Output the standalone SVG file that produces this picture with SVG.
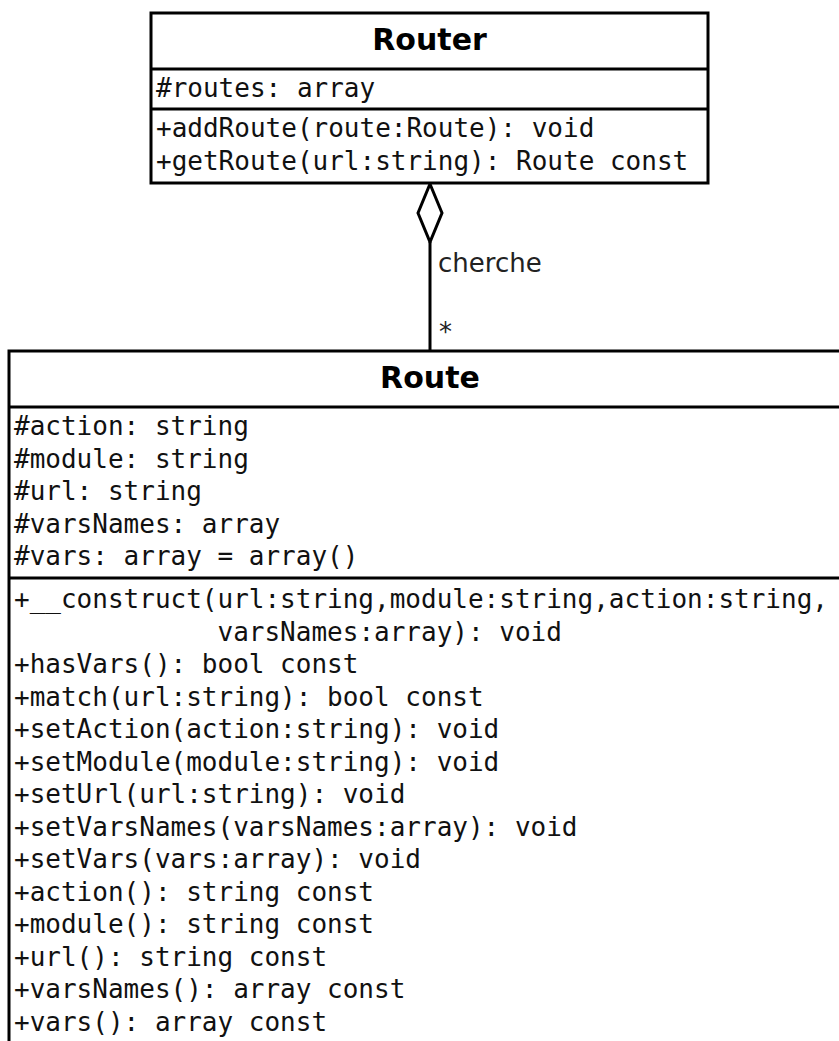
<svg xmlns="http://www.w3.org/2000/svg" width="839" height="1041" viewBox="0 0 839 1041">
<style>
.box{fill:#fff;stroke:#000;stroke-width:3}
.sep{stroke:#000;stroke-width:3}
.title{font-family:"DejaVu Sans",sans-serif;font-weight:bold;font-size:30px;text-anchor:middle;fill:#000}
.mono{font-family:"DejaVu Sans Mono","Liberation Mono",monospace;font-size:26px;fill:#111}
.lbl{font-family:"DejaVu Sans",sans-serif;font-size:26px;fill:#222}
.edge{stroke:#000;stroke-width:3;fill:none}
</style>
<rect width="839" height="1041" fill="#fff"/>
<g id="connectors">
<line class="edge" x1="430" y1="242" x2="430" y2="351"/>
<polygon class="edge" points="430,184 442,213 430,242 418,213" fill="#fff" style="fill:#fff"/>
<text class="lbl" x="438" y="272">cherche</text>
<text class="lbl" x="439" y="341">*</text>
</g>
<g id="Router">
<rect class="box" x="151" y="13" width="557" height="170"/>
<line class="sep" x1="151" y1="69" x2="708" y2="69"/>
<line class="sep" x1="151" y1="109" x2="708" y2="109"/>
<text class="title" x="429.5" y="50">Router</text>
<text class="mono" x="156" y="97">#routes: array</text>
<text class="mono" x="156" y="137">+addRoute(route:Route): void</text>
<text class="mono" x="156" y="169.5">+getRoute(url:string): Route const</text>
</g>
<g id="Route">
<rect class="box" x="9" y="351" width="900" height="720"/>
<line class="sep" x1="9" y1="407" x2="839" y2="407"/>
<line class="sep" x1="9" y1="578" x2="839" y2="578"/>
<text class="title" x="430" y="388">Route</text>
<text class="mono" x="14" y="435">#action: string</text>
<text class="mono" x="14" y="467.5">#module: string</text>
<text class="mono" x="14" y="500">#url: string</text>
<text class="mono" x="14" y="532.5">#varsNames: array</text>
<text class="mono" x="14" y="565">#vars: array = array()</text>
<text class="mono" x="14" y="608">+__construct(url:string,module:string,action:string,</text>
<text class="mono" x="217.5" y="640.5">varsNames:array): void</text>
<text class="mono" x="14" y="673">+hasVars(): bool const</text>
<text class="mono" x="14" y="705.5">+match(url:string): bool const</text>
<text class="mono" x="14" y="738">+setAction(action:string): void</text>
<text class="mono" x="14" y="770.5">+setModule(module:string): void</text>
<text class="mono" x="14" y="803">+setUrl(url:string): void</text>
<text class="mono" x="14" y="835.5">+setVarsNames(varsNames:array): void</text>
<text class="mono" x="14" y="868">+setVars(vars:array): void</text>
<text class="mono" x="14" y="900.5">+action(): string const</text>
<text class="mono" x="14" y="933">+module(): string const</text>
<text class="mono" x="14" y="965.5">+url(): string const</text>
<text class="mono" x="14" y="998">+varsNames(): array const</text>
<text class="mono" x="14" y="1030.5">+vars(): array const</text>
</g>
</svg>
